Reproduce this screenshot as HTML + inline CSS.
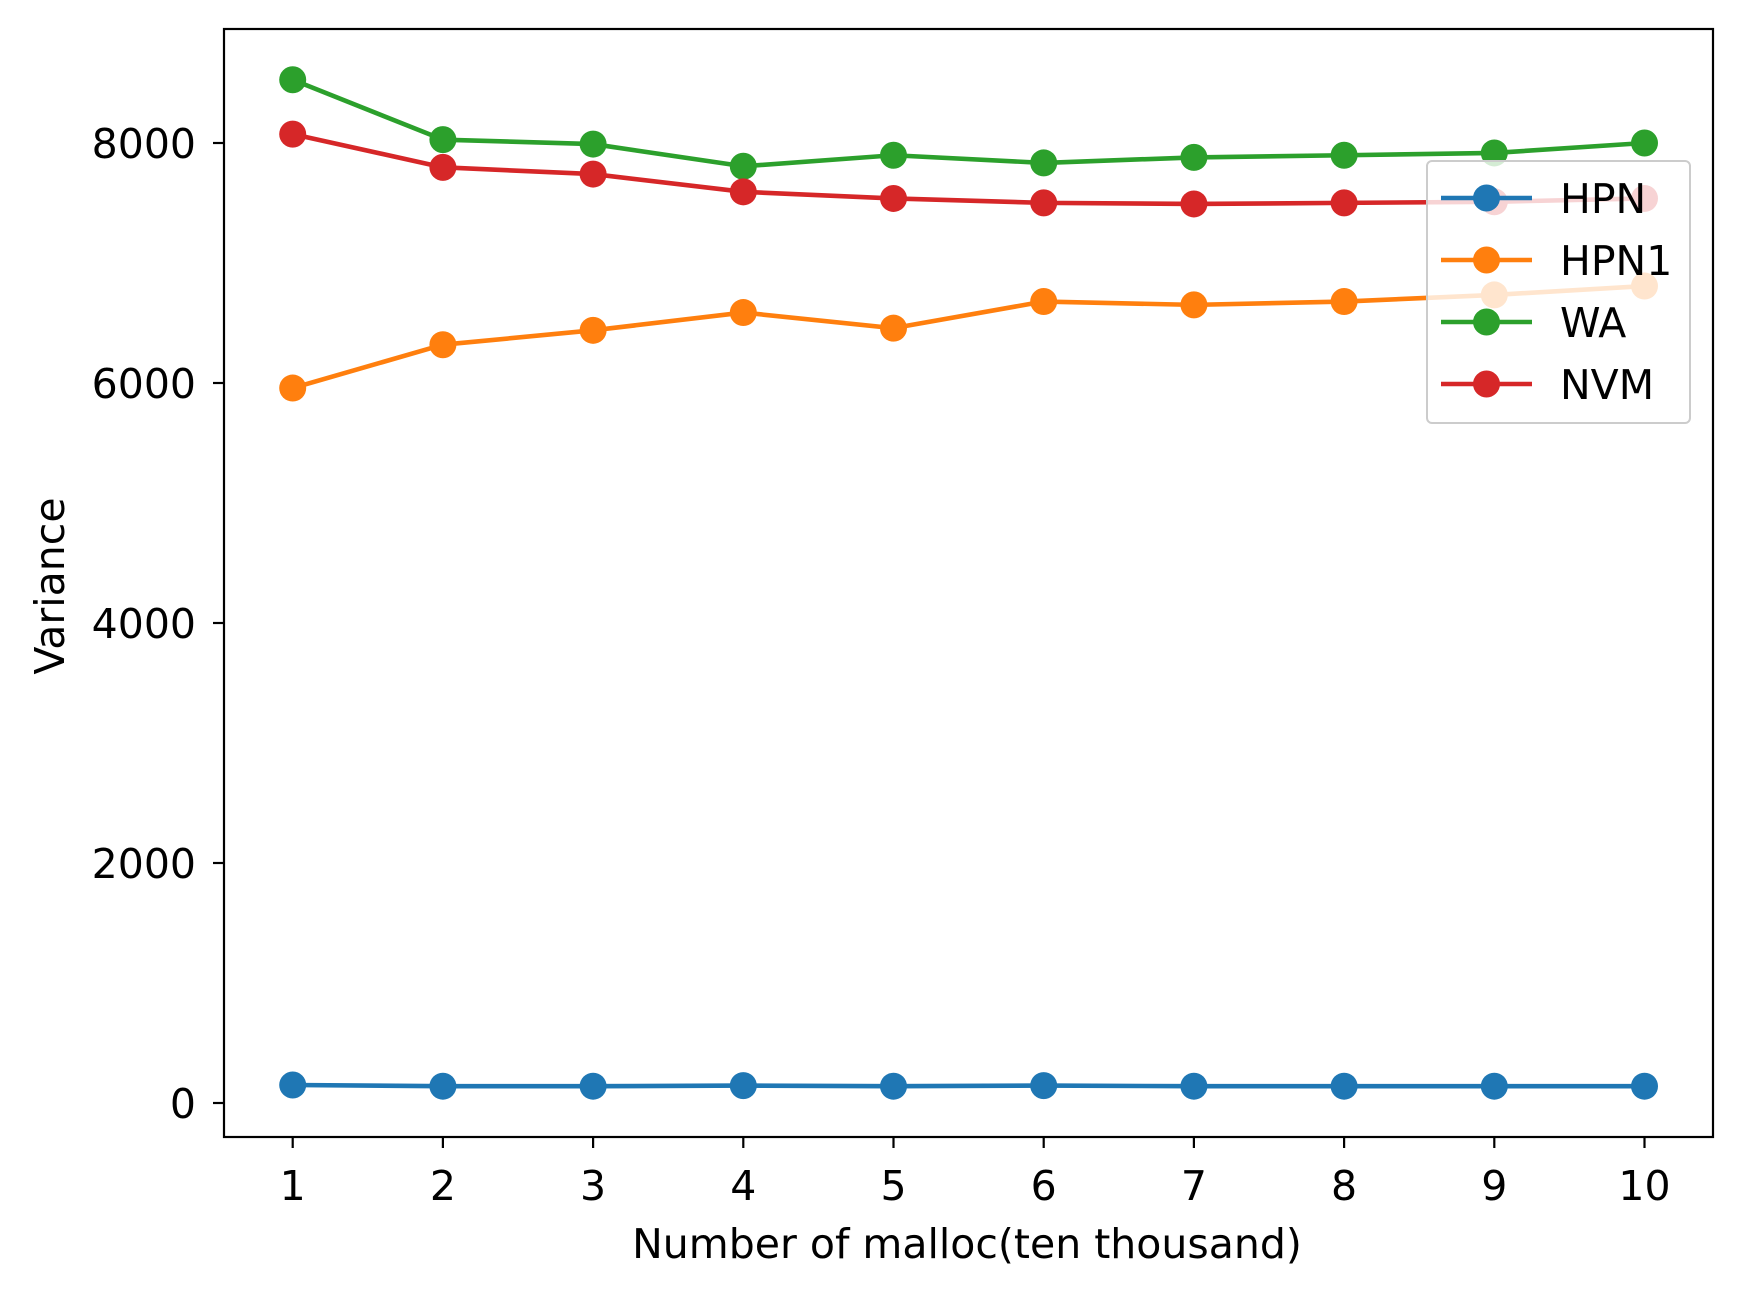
<!DOCTYPE html>
<html><head><meta charset="utf-8"><style>
html,body{margin:0;padding:0;background:#fff}
svg{display:block;font-family:"DejaVu Sans","Liberation Sans",sans-serif}
</style></head><body>
<svg id="chart" width="1741" height="1298" xmlns="http://www.w3.org/2000/svg"></svg>
<script>
const categories=[1,2,3,4,5,6,7,8,9,10];
const hpn=[150,140,140,145,140,145,140,140,140,140];
const hpn1=[5958,6319,6439,6587,6457,6679,6651,6679,6734,6808];
const wa=[8527,8028,7991,7806,7898,7834,7880,7898,7917,8000];
const nvm=[8074,7797,7741,7593,7538,7501,7492,7501,7510,7538];
const yTicks=[0,2000,4000,6000,8000];
const seriesNames=["HPN","HPN1","WA","NVM"];
const colors=["#1f77b4","#ff7f0e","#2ca02c","#d62728"];
const series=[hpn,hpn1,wa,nvm];

const NS="http://www.w3.org/2000/svg";
const svg=document.getElementById('chart');
const L=224,R=1713,T=29,B=1137;
const FS=41;
const xS=v=>292.7+(v-1)*150.2;
const yS=v=>1103-v*0.12;
function mk(tag,attrs,parent){const e=document.createElementNS(NS,tag);for(const k in attrs)e.setAttribute(k,attrs[k]);(parent||svg).appendChild(e);return e;}

yTicks.forEach(t=>{
  const g=mk('g',{});
  
  
  mk('line',{x1:L-11,x2:L,y1:yS(t),y2:yS(t),stroke:'#000','stroke-width':2.2},g);
  const tx=mk('text',{x:L-28,y:yS(t)+15,'text-anchor':'end','font-size':FS,fill:'#000'},g);tx.textContent=t;
});
categories.forEach(c=>{
  const g=mk('g',{});
  
  
  mk('line',{x1:xS(c),x2:xS(c),y1:B,y2:B+11,stroke:'#000','stroke-width':2.2},g);
  const tx=mk('text',{x:xS(c),y:B+63,'text-anchor':'middle','font-size':FS,fill:'#000'},g);tx.textContent=c;
});

series.forEach((s,i)=>{
  const g=mk('g',{});
  
  
  mk('polyline',{points:s.map((v,j)=>xS(categories[j])+','+yS(v)).join(' '),fill:'none',stroke:colors[i],'stroke-width':4.6,'stroke-linejoin':'round'},g);
  s.forEach((v,j)=>{
    const c=mk('circle',{cx:xS(categories[j]),cy:yS(v),r:13.5,fill:colors[i]},g);
    
    
  });
});

const fr=mk('rect',{x:L,y:T,width:R-L,height:B-T,fill:'none',stroke:'#000','stroke-width':2.2});



const lg=mk('g',{});


mk('rect',{x:1427,y:161,width:263,height:262,rx:5,fill:'#fff','fill-opacity':0.8,stroke:'#ccc','stroke-width':2},lg);
seriesNames.forEach((n,i)=>{
  const y=198+i*62;
  const e=mk('g',{},lg);
  
  
  mk('line',{x1:1441,x2:1532,y1:y,y2:y,stroke:colors[i],'stroke-width':4.6},e);
  mk('circle',{cx:1486.5,cy:y,r:13.5,fill:colors[i]},e);
  const t=mk('text',{x:1560,y:y+15,'font-size':FS,fill:'#000'},e);t.textContent=n;
});

const xl=mk('text',{x:967,y:1258,'text-anchor':'middle','font-size':FS,fill:'#000'});xl.textContent='Number of malloc(ten thousand)';


const yl=mk('text',{x:0,y:0,'text-anchor':'middle','font-size':FS,fill:'#000',transform:'translate(64,586) rotate(-90)'});yl.textContent='Variance';


</script>
</body></html>
